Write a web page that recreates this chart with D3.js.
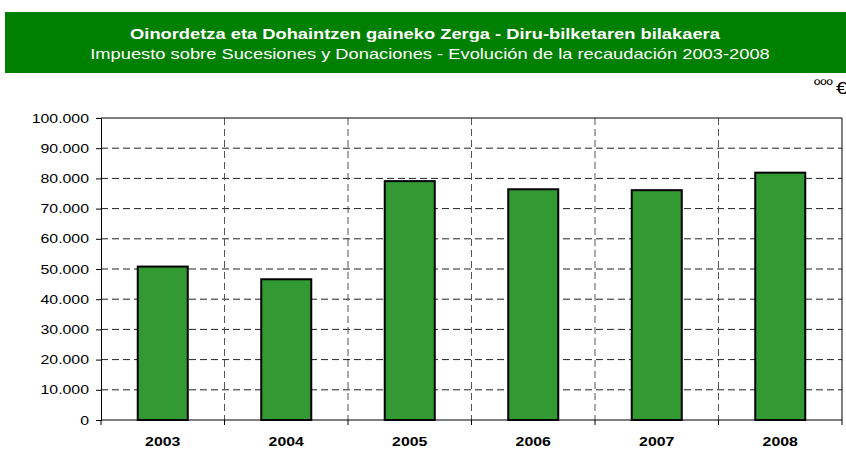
<!DOCTYPE html>
<html lang="en">
<head>
  <meta charset="UTF-8">
  <title>Oinordetza eta Dohaintzen gaineko Zerga</title>
  <style>
    body {
      margin: 0;
      background: #fff;
    }
    svg text {
      font-family: Arial, "Liberation Sans", sans-serif;
    }
    .grid line {
      stroke: #222;
      stroke-dasharray: 7,4;
    }
    .bar {
      fill: #339933;
      stroke: #000;
      stroke-width: 2px;
    }
  </style>
</head>
<body>
  <script src="https://d3js.org/d3.v7.min.js"></script>
  <script>
    const years = ['2003', '2004', '2005', '2006', '2007', '2008'];
    const values = [50800, 46600, 79100, 76400, 76100, 81900];
    const yTicks = [0, 10000, 20000, 30000, 40000, 50000, 60000, 70000, 80000, 90000, 100000];

    const width = 846;
    const height = 450;
    const margin = { top: 118, right: 4, bottom: 30, left: 101 };

    // the original text is drawn a bit wider than normal Arial
    const stretchK = 1.22;
    function stretch(sel) {
      sel.each(function () {
        const w = this.getComputedTextLength();
        d3.select(this)
          .attr('textLength', w * stretchK)
          .attr('lengthAdjust', 'spacingAndGlyphs');
      });
    }

    const svg = d3.select('body').append('svg')
      .attr('width', width)
      .attr('height', height);

    // title banner
    svg.append('rect')
      .attr('x', 5).attr('y', 12)
      .attr('width', width - 5).attr('height', 61)
      .attr('fill', '#008000');

    svg.append('text')
      .attr('x', 425).attr('y', 39)
      .attr('text-anchor', 'middle')
      .attr('fill', '#fff')
      .attr('font-size', 15)
      .attr('font-weight', 'bold')
      .text('Oinordetza eta Dohaintzen gaineko Zerga - Diru-bilketaren bilakaera')
      .call(stretch);

    svg.append('text')
      .attr('x', 430).attr('y', 59)
      .attr('text-anchor', 'middle')
      .attr('fill', '#fff')
      .attr('font-size', 15)
      .text('Impuesto sobre Sucesiones y Donaciones - Evolución de la recaudación 2003-2008')
      .call(stretch);

    svg.append('text')
      .attr('x', 814).attr('y', 90)
      .attr('font-size', 14)
      .text('ººº')
      .call(stretch);
    svg.append('text')
      .attr('x', 836).attr('y', 94)
      .attr('font-size', 17)
      .text('€')
      .call(stretch);

    const x = d3.scaleBand()
      .domain(years)
      .range([margin.left, width - margin.right])
      .paddingInner(0.595)
      .paddingOuter(0.2975);

    const y = d3.scaleLinear()
      .domain([0, 100000])
      .range([height - margin.bottom, margin.top]);

    const step = x.step();
    const boundaries = d3.range(years.length + 1).map(i => margin.left + i * step);

    // horizontal grid
    svg.append('g').attr('class', 'grid')
      .selectAll('line')
      .data(yTicks.slice(1, -1))
      .join('line')
      .attr('x1', margin.left).attr('x2', width - margin.right)
      .attr('y1', d => y(d)).attr('y2', d => y(d));

    // vertical grid
    svg.append('g').attr('class', 'grid')
      .selectAll('line')
      .data(boundaries.slice(1, -1))
      .join('line')
      .attr('x1', d => d).attr('x2', d => d)
      .attr('y1', margin.top).attr('y2', height - margin.bottom)
      .style('stroke', '#555');

    // frame top & right
    svg.append('path')
      .attr('d', `M${margin.left},${y(100000)}H${width - margin.right}V${y(0)}`)
      .attr('fill', 'none')
      .attr('stroke', '#000')
      .attr('stroke-width', 1);

    // bars
    svg.append('g')
      .selectAll('rect')
      .data(years)
      .join('rect')
      .attr('class', 'bar')
      .attr('x', d => x(d))
      .attr('y', (d, i) => y(values[i]))
      .attr('width', x.bandwidth())
      .attr('height', (d, i) => y(0) - y(values[i]));

    // y axis
    const fmt = d3.formatLocale({ decimal: ',', thousands: '.', grouping: [3], currency: ['', ''] }).format(',');
    const yAxis = svg.append('g')
      .attr('transform', `translate(${margin.left},0)`)
      .call(d3.axisLeft(y).tickValues(yTicks).tickFormat(fmt).tickSizeOuter(0).tickSize(5).tickPadding(7));
    yAxis.attr('font-family', null);
    yAxis.select('.domain').attr('stroke', '#000');
    yAxis.selectAll('.tick line').attr('stroke', '#000');
    yAxis.selectAll('text')
      .attr('font-size', 13)
      .attr('fill', '#000')
      .call(stretch);

    // x axis
    const xAxis = svg.append('g')
      .attr('transform', `translate(0,${y(0)})`);
    xAxis.append('line')
      .attr('x1', margin.left).attr('x2', width - margin.right)
      .attr('stroke', '#000');
    xAxis.selectAll('.xtick')
      .data(boundaries)
      .join('line')
      .attr('class', 'xtick')
      .attr('x1', d => d).attr('x2', d => d)
      .attr('y1', 0).attr('y2', 5)
      .attr('stroke', '#000');
    xAxis.selectAll('.xlabel')
      .data(years)
      .join('text')
      .attr('class', 'xlabel')
      .attr('x', d => x(d) + x.bandwidth() / 2)
      .attr('y', 26)
      .attr('text-anchor', 'middle')
      .attr('font-size', 13)
      .attr('font-weight', 'bold')
      .text(d => d)
      .call(stretch);
  </script>
</body>
</html>
